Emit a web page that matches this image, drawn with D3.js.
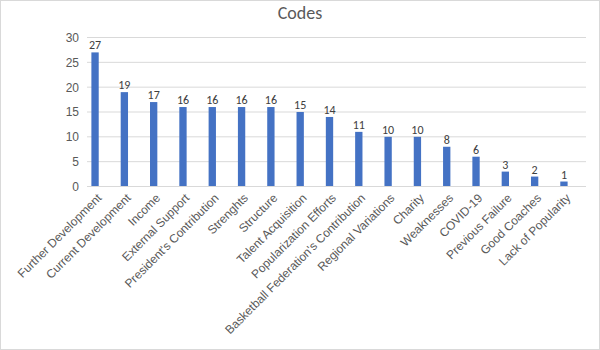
<!DOCTYPE html>
<html>
<head>
<meta charset="utf-8">
<script src="https://cdn.jsdelivr.net/npm/d3@7"></script>
<style>
  body { margin: 0; background: #fff; }
  svg { display: block; font-family: Calibri, Carlito, "Liberation Sans", "Open Sans", sans-serif; }
</style>
</head>
<body>
<svg id="chart" width="600" height="350"></svg>
<script>
const categories = [
  "Further Development", "Current Development", "Income", "External Support",
  "President's Contribution", "Strenghts", "Structure", "Talent Acquisition",
  "Popularization Efforts", "Basketball Federation's Contribution",
  "Regional Variations", "Charity", "Weaknesses", "COVID-19",
  "Previous Failure", "Good Coaches", "Lack of Popularity"
];
const counts = [27, 19, 17, 16, 16, 16, 16, 15, 14, 11, 10, 10, 8, 6, 3, 2, 1];
const yTicks = [0, 5, 10, 15, 20, 25, 30];
const chartTitle = "Codes";

const svg = d3.select("#chart");
const W = 600, H = 350;
// plot frame (gridline extent) and category band extent
const grid = { left: 87, right: 586 };
const band = { left: 80.4, right: 578.6 };
const plot = { top: 37.5, bottom: 186.5 };

svg.append("rect")
  .attr("x", 0.5).attr("y", 0.5).attr("width", W - 1).attr("height", H - 1)
  .attr("fill", "#fff").attr("stroke", "#d9d9d9");

const x = d3.scaleBand().domain(categories)
  .range([band.left, band.right]).paddingInner(0.75).paddingOuter(0.375);
const y = d3.scaleLinear().domain([0, 30]).range([plot.bottom, plot.top]);

// gridlines
svg.append("g").selectAll("line").data(yTicks).join("line")
  .attr("x1", grid.left).attr("x2", grid.right)
  .attr("y1", d => y(d)).attr("y2", d => y(d))
  .attr("stroke", "#d9d9d9").attr("stroke-width", 1);

// y axis labels
const yAxis = svg.append("g")
  .attr("transform", `translate(${grid.left},0)`)
  .call(d3.axisLeft(y).tickValues(yTicks).tickSize(0).tickPadding(8));
yAxis.select(".domain").remove();
yAxis.selectAll("text").attr("fill", "#595959").style("font-size", "12px");

// bars
svg.append("g").selectAll("rect").data(counts).join("rect")
  .attr("x", (d, i) => x(categories[i]))
  .attr("width", x.bandwidth())
  .attr("y", d => y(d))
  .attr("height", d => y(0) - y(d))
  .attr("fill", "#4472C4");

// value labels
svg.append("g").selectAll("text").data(counts).join("text")
  .attr("x", (d, i) => x(categories[i]) + x.bandwidth() / 2)
  .attr("y", d => y(d) - 3)
  .attr("text-anchor", "middle")
  .attr("fill", "#404040")
  .style("font-size", "12px")
  .text(d => d);

// baseline
svg.append("line")
  .attr("x1", grid.left).attr("x2", grid.right)
  .attr("y1", y(0)).attr("y2", y(0))
  .attr("stroke", "#d9d9d9");

// category labels
const xAxis = svg.append("g")
  .attr("transform", `translate(0,${y(0)})`)
  .call(d3.axisBottom(x).tickSize(0).tickPadding(0));
xAxis.select(".domain").remove();
xAxis.selectAll("text")
  .attr("fill", "#595959")
  .style("font-size", "12px")
  .attr("text-anchor", "end")
  .attr("dy", null)
  .attr("transform", "translate(5,10) rotate(-45)")
  .attr("dominant-baseline", "middle");

// title
svg.append("text")
  .attr("x", W / 2).attr("y", 19)
  .attr("text-anchor", "middle")
  .attr("fill", "#595959")
  .style("font-size", "18px")
  .text(chartTitle);
</script>
</body>
</html>
